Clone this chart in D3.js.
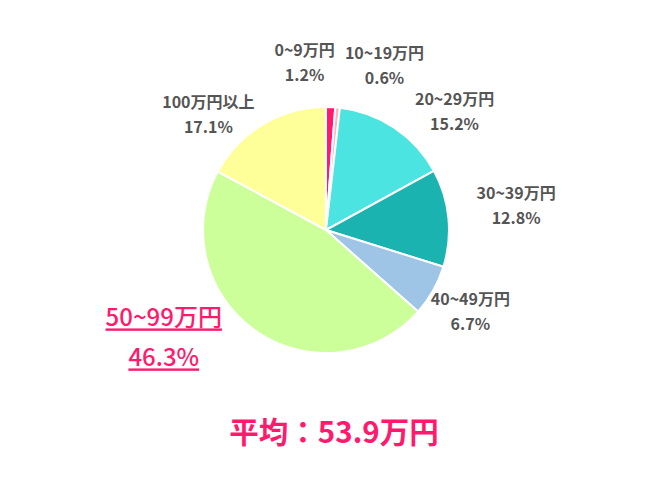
<!DOCTYPE html>
<html>
<head>
<meta charset="utf-8">
<script src="https://cdn.jsdelivr.net/npm/d3@7"></script>
<style>
  body { margin: 0; background: #fff; }
  svg { display: block; font-family: "Noto Sans CJK JP", "Noto Sans", sans-serif; }
</style>
</head>
<body>
<svg width="650" height="480"></svg>
<script>
const categories = ['0~9万円', '10~19万円', '20~29万円', '30~39万円', '40~49万円', '50~99万円', '100万円以上']
const shares = [1.2, 0.6, 15.2, 12.8, 6.7, 46.3, 17.1]
const colors = ['#ff1a6e', '#ffb3c4', '#4ce4e0', '#1bb3b0', '#9ec4e6', '#ccff99', '#ffff99']
const highlight = '50~99万円'
const average = '平均：53.9万円'

const svg = d3.select('svg')
const cx = 326, cy = 230, r = 123

// nudges from the label arc, the original moved labels around by hand
const nudge = [[-28, 1], [42, 3], [31, 20], [16, -14], [-8, -11], [-62, -47], [-28, 28]]

const data = categories.map((c, i) => ({ cat: c, value: shares[i], color: colors[i], i: i }))

const pie = d3.pie().sort(null).value(d => d.value)
const arc = d3.arc().innerRadius(0).outerRadius(r)
const labelArc = d3.arc().innerRadius(175).outerRadius(175)

const g = svg.append('g').attr('transform', `translate(${cx},${cy})`)

g.selectAll('path')
    .data(pie(data))
    .enter().append('path')
    .attr('d', arc)
    .attr('fill', d => d.data.color)
    .attr('stroke', '#fff')
    .attr('stroke-width', 2)

let labels = g.selectAll('.lbl')
    .data(pie(data))
    .enter().append('text')
    .attr('class', 'lbl')
    .attr('text-anchor', 'middle')
    .attr('transform', d => {
        let c = labelArc.centroid(d)
        let n = nudge[d.data.i]
        return `translate(${c[0] + n[0]},${c[1] + n[1]})`
    })
    .attr('fill', d => d.data.cat == highlight ? '#ff1a6e' : '#555555')
    .attr('font-size', d => d.data.cat == highlight ? 24 : 16)
    .attr('font-weight', d => d.data.cat == highlight ? 500 : 700)
    .attr('text-decoration', d => d.data.cat == highlight ? 'underline' : null)

labels.append('tspan')
    .attr('x', 0).attr('y', 0)
    .text(d => d.data.cat)
labels.append('tspan')
    .attr('x', 0)
    .attr('y', d => d.data.cat == highlight ? 40 : 25)
    .text(d => d.data.value.toFixed(1) + '%')

svg.append('text')
    .attr('x', 334).attr('y', 443)
    .attr('text-anchor', 'middle')
    .attr('fill', '#ff1a6e')
    .attr('font-size', 29.5)
    .attr('font-weight', 700)
    .text(average)
</script>
</body>
</html>
